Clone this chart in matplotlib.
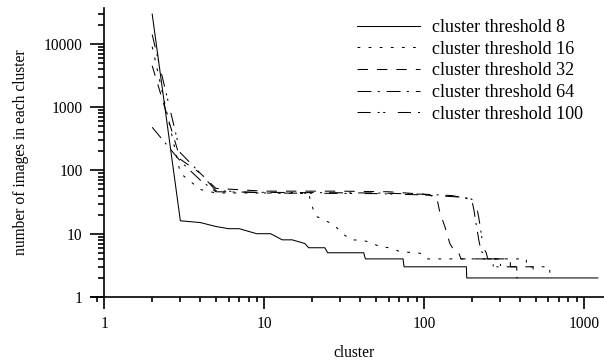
import matplotlib
matplotlib.use('Agg')
import matplotlib.pyplot as plt
from matplotlib.ticker import LogLocator, FixedLocator, NullFormatter, FixedFormatter

plt.rcParams['font.family'] = ['Liberation Serif', 'DejaVu Serif']
plt.rcParams['lines.scale_dashes'] = False

# cluster index / number of images (breakpoints)
x_t8 = [2, 3, 4, 5, 6, 7, 9, 11, 13, 15, 18, 19, 24, 25, 42, 43, 74, 75, 184, 185, 1220]
y_t8 = [29500, 16, 15, 13, 12, 12, 10, 10, 8, 8, 7, 6, 6, 5, 5, 4, 4, 3, 3, 2, 2]

x_t16 = [2, 3, 4, 5, 10, 19, 20, 21, 25, 28, 31, 35, 41, 47, 53, 61, 71, 95, 104, 436, 437, 611, 612, 615]
y_t16 = [9000, 90, 50, 44, 44, 43, 27, 19, 15.5, 13, 10, 8, 7.9, 7.2, 6.2, 6, 5.2, 4.9, 4, 4, 3, 3, 2, 2]

x_t32 = [2, 3, 4, 5, 10, 30, 60, 100, 120, 126, 135, 145, 155, 165, 170, 346, 347, 481, 482, 484]
y_t32 = [4500, 150, 90, 52, 47, 47, 46, 42, 38, 21, 13, 7, 5.3, 5, 4, 4, 3, 3, 2, 2]

x_t64 = [2, 3, 4, 5, 10, 50, 100, 150, 185, 200, 205, 212, 220, 228, 235, 240, 300, 301, 380, 381, 383]
y_t64 = [480, 140, 70, 46, 45, 44, 42, 40, 36, 32, 24, 14, 8, 5.2, 5, 4, 4, 3, 3, 2, 2]

x_t100 = [2, 3, 4, 5, 10, 50, 100, 165, 195, 205, 212, 220, 228, 235, 245, 250, 270, 271, 296, 297, 299]
y_t100 = [14000, 190, 90, 48, 44, 43, 41, 38, 36, 33, 29, 18, 10, 6, 5, 4, 4, 3, 3, 2, 2]

labels = ['cluster threshold 8', 'cluster threshold 16', 'cluster threshold 32',
          'cluster threshold 64', 'cluster threshold 100']

fig = plt.figure(figsize=(6.04, 3.6), dpi=100)
ax = fig.add_axes([91/604, 63/360, 513/604, 289/360])

lw = 0.75
ax.plot(x_t8, y_t8, color='black', lw=lw, label=labels[0])
ax.plot(x_t16, y_t16, color='black', lw=lw, dashes=(2, 6), label=labels[1])
ax.plot(x_t32, y_t32, color='black', lw=lw, dashes=(7.5, 6.5), label=labels[2])
ax.plot(x_t64, y_t64, color='black', lw=lw, dashes=(10, 4.5, 1.5, 5), label=labels[3])
ax.plot(x_t100, y_t100, color='black', lw=lw, dashes=(9.5, 5, 1.5, 2.5, 1.5, 9), label=labels[4])

ax.set_xscale('log')
ax.set_yscale('log')
ax.set_xlim(0.829, 1334)
ax.set_ylim(1, 36800)

ax.spines['top'].set_visible(False)
ax.spines['right'].set_visible(False)
ax.spines['left'].set_position(('data', 1))
ax.spines['left'].set_linewidth(1.2)
ax.spines['bottom'].set_linewidth(1.2)

xt = [1, 10, 100, 1000]
ax.xaxis.set_major_locator(FixedLocator(xt))
ax.xaxis.set_major_formatter(FixedFormatter([str(v) for v in xt]))
ax.xaxis.set_minor_locator(LogLocator(base=10, subs=range(2, 10)))
ax.xaxis.set_minor_formatter(NullFormatter())

yt = [1, 10, 100, 1000, 10000]
ax.yaxis.set_major_locator(FixedLocator(yt))
ax.yaxis.set_major_formatter(FixedFormatter([str(v) for v in yt]))
ax.yaxis.set_minor_locator(LogLocator(base=10, subs=range(2, 10)))
ax.yaxis.set_minor_formatter(NullFormatter())

ax.tick_params(axis='x', which='major', direction='out', length=8.5, width=1.2, pad=5, labelsize=11.2)
ax.tick_params(axis='x', which='minor', direction='out', length=3.6, width=1.2)
ax.tick_params(axis='y', which='major', direction='out', length=10, width=1.2, pad=5.5, labelsize=11.2)
ax.tick_params(axis='y', which='minor', direction='out', length=4.3, width=1.2)

fig.text(354/604, 1 - 353/360, 'cluster', ha='center', va='center', fontsize=11.2)
fig.text(21/604, 1 - 152/360, 'number of images in each cluster', ha='center', va='center',
         rotation=90, fontsize=11.2)

ax.legend(loc='upper left', bbox_to_anchor=(357/604, 1 - 19/360), bbox_transform=fig.transFigure,
          frameon=False, fontsize=13, borderpad=0, borderaxespad=0, handlelength=3.5,
          handletextpad=0.66, labelspacing=0.26)

fig.savefig('out.png', dpi=100)
